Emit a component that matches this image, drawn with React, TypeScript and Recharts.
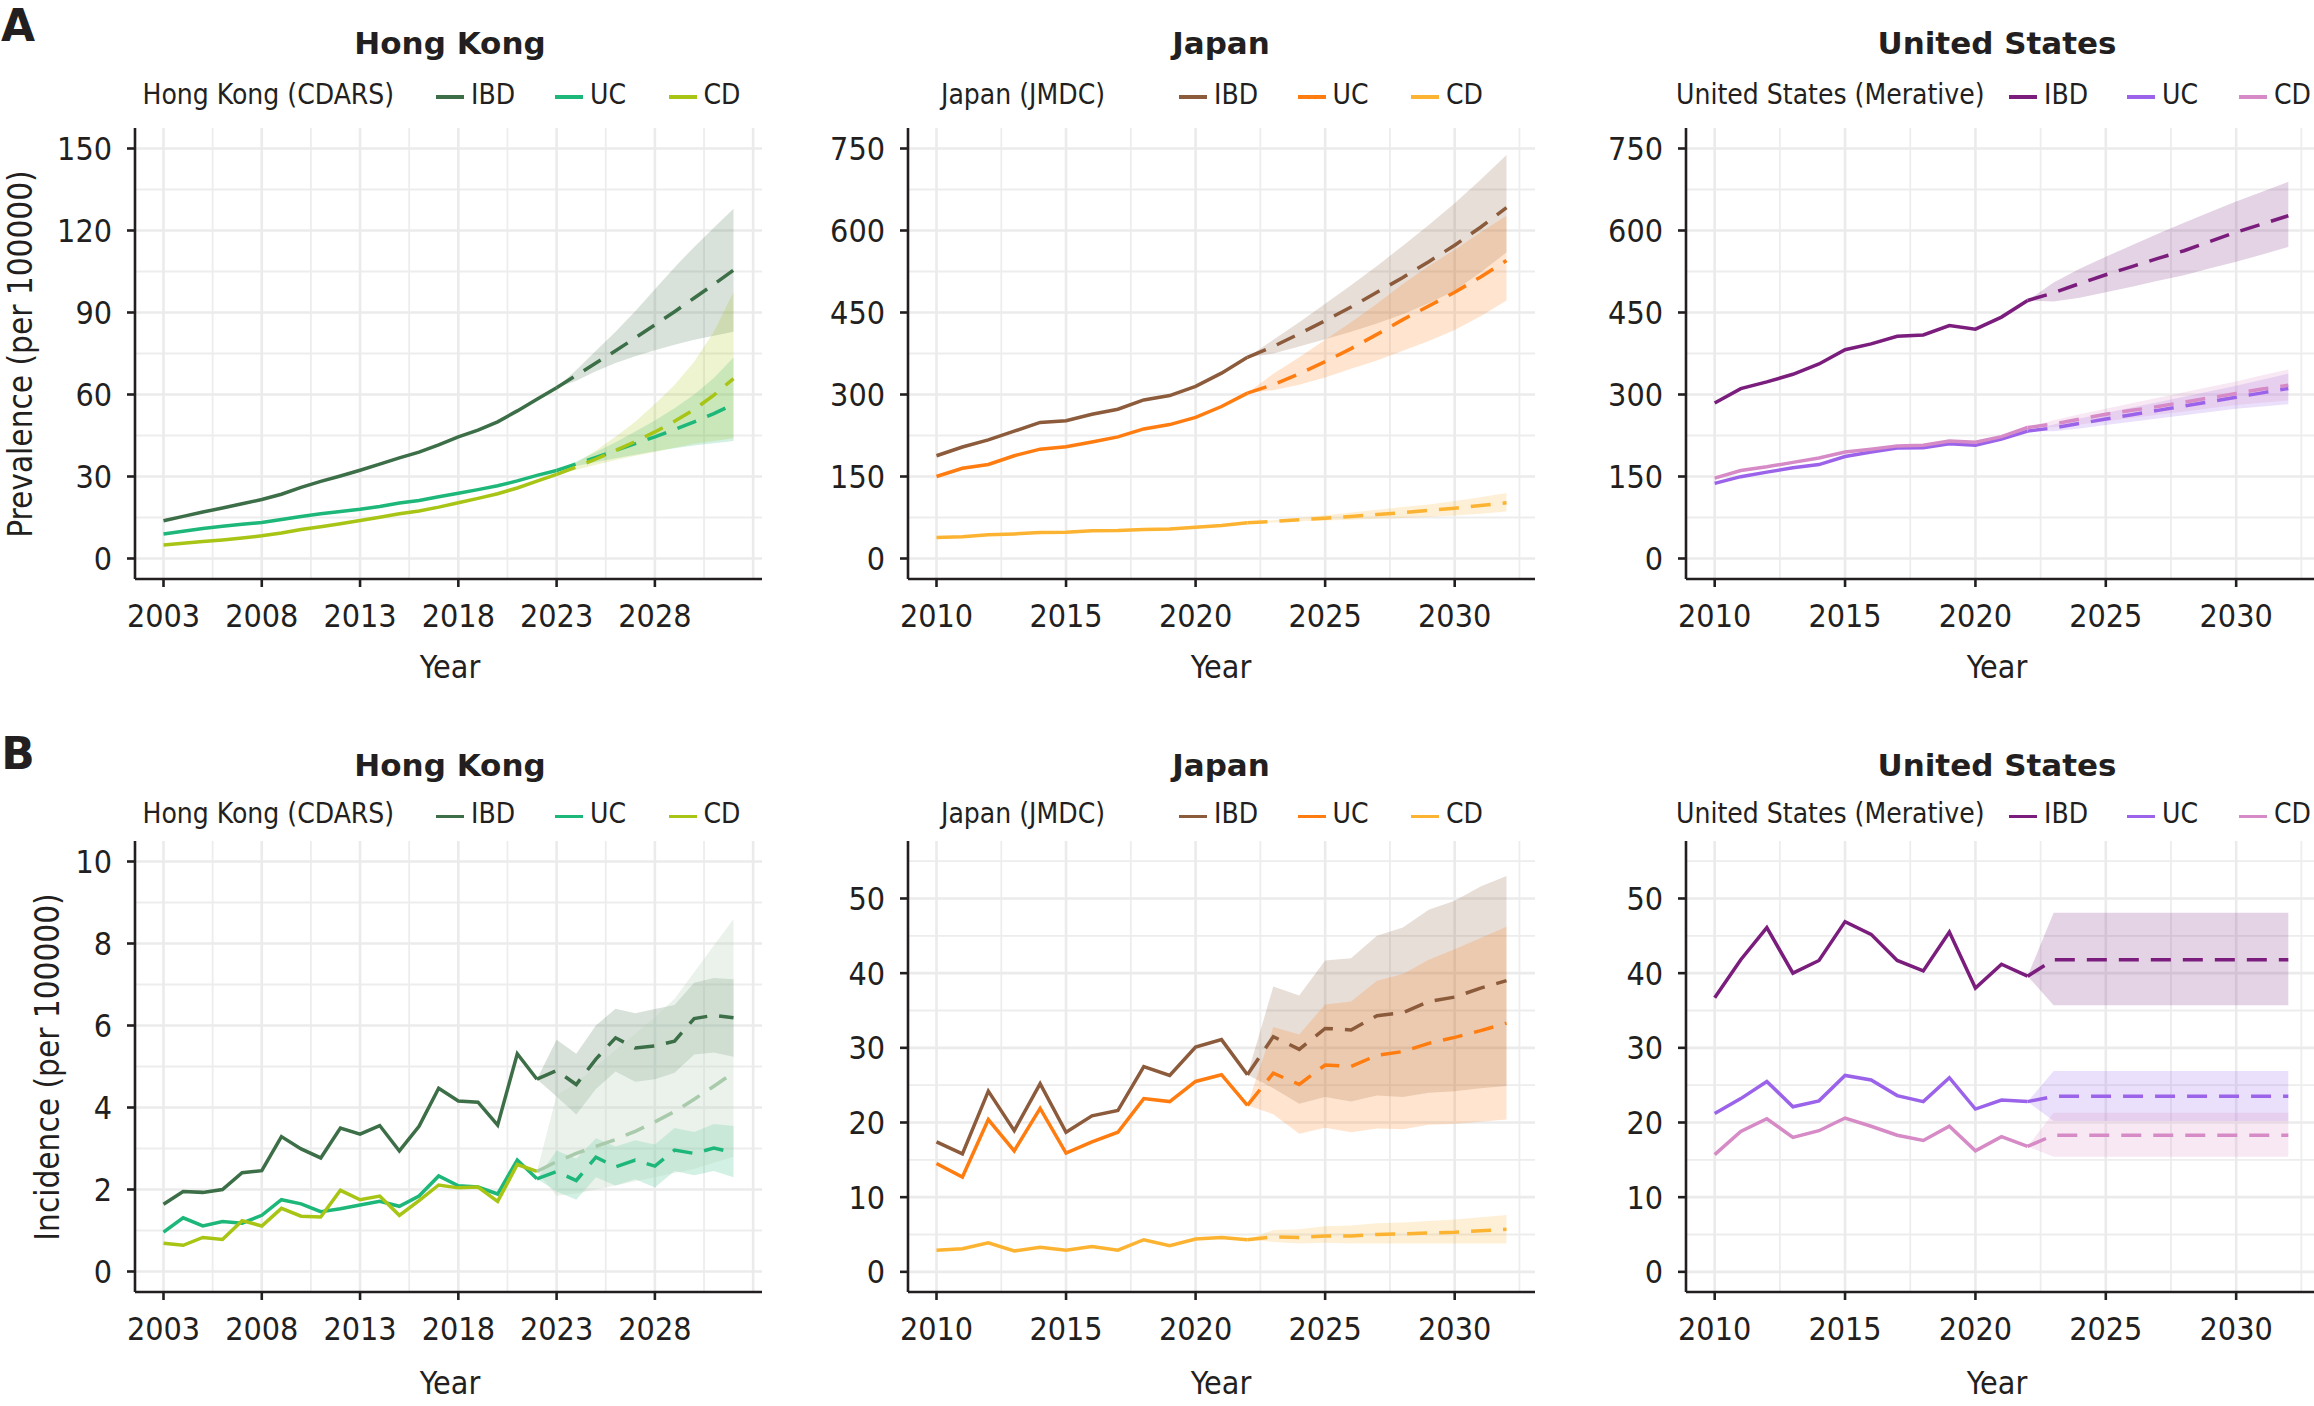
import React from 'react';
import { ComposedChart, Line, Area, XAxis, YAxis, CartesianGrid } from 'recharts';

const INK = '#231f20';
const FONT = "'DejaVu Sans Condensed', 'DejaVu Sans', sans-serif";
const TITLE_FONT = "'DejaVu Sans', sans-serif";

// ---------- years ----------
const hkObsYearsPrev = [2003, 2004, 2005, 2006, 2007, 2008, 2009, 2010, 2011, 2012, 2013, 2014, 2015, 2016, 2017, 2018, 2019, 2020, 2021, 2022, 2023];
const hkProjYearsPrev = [2023, 2024, 2025, 2026, 2027, 2028, 2029, 2030, 2031, 2032];
const hkObsYearsInc = [2003, 2004, 2005, 2006, 2007, 2008, 2009, 2010, 2011, 2012, 2013, 2014, 2015, 2016, 2017, 2018, 2019, 2020, 2021, 2022];
const obsYears1022 = [2010, 2011, 2012, 2013, 2014, 2015, 2016, 2017, 2018, 2019, 2020, 2021, 2022];
const projYears2232 = [2022, 2023, 2024, 2025, 2026, 2027, 2028, 2029, 2030, 2031, 2032];

// ---------- A: prevalence, Hong Kong ----------
const hkPrevIbd = [13.8, 15.4, 17.0, 18.5, 20.0, 21.6, 23.5, 26.0, 28.2, 30.2, 32.3, 34.5, 36.8, 38.9, 41.6, 44.5, 47.0, 50.0, 54.0, 58.3, 62.5];
const hkPrevUc = [9.0, 10.0, 11.0, 11.8, 12.5, 13.2, 14.3, 15.4, 16.4, 17.2, 18.0, 19.0, 20.3, 21.2, 22.6, 23.9, 25.2, 26.6, 28.4, 30.4, 32.2];
const hkPrevCd = [4.9, 5.6, 6.2, 6.8, 7.5, 8.3, 9.3, 10.6, 11.6, 12.7, 13.9, 15.1, 16.4, 17.4, 18.8, 20.4, 22.0, 23.7, 25.8, 28.3, 30.8];
const hkPrevIbdProj = [62.5, 67, 71.5, 76, 80.7, 85.5, 90.3, 95.3, 100.3, 105.5];
const hkPrevIbdLo = [62.5, 65, 68.5, 71.5, 74, 76.2, 78.2, 80, 81.5, 83];
const hkPrevIbdHi = [62.5, 69, 76, 83, 90.5, 98.5, 106.5, 114, 121, 128];
const hkPrevUcProj = [32.2, 34.6, 37, 39.5, 42, 44.5, 47.2, 50, 53, 56.4];
const hkPrevUcLo = [32.2, 33.8, 35.3, 36.7, 38, 39.2, 40.3, 41.3, 42.2, 43];
const hkPrevUcHi = [32.2, 35.5, 39, 42.5, 46.5, 50.5, 55, 60, 66, 73.5];
const hkPrevCdProj = [30.8, 33.5, 36.4, 39.5, 42.8, 46.3, 50.2, 54.5, 59.8, 65.8];
const hkPrevCdLo = [30.8, 32.5, 34.3, 36, 37.6, 39, 40.5, 42, 43, 44];
const hkPrevCdHi = [30.8, 35, 39.5, 44.5, 50, 56.5, 63.5, 72, 83, 97.5];

// ---------- A: prevalence, Japan ----------
const jpPrevIbd = [188, 204, 217, 233, 249, 252, 264, 273, 290, 298, 315, 339, 368];
const jpPrevUc = [150, 165, 172, 188, 200, 204.5, 213, 222.5, 237, 245, 258, 278, 302.6];
const jpPrevCd = [38.4, 40, 43.3, 45, 47.4, 48, 50.7, 51, 53, 54, 57, 60.5, 65.4];
const jpPrevIbdProj = [368, 388, 411, 435, 460, 487, 514, 543, 573, 606, 642];
const jpPrevIbdLo = [368, 375, 388, 401, 415, 430, 447, 467, 490, 523, 560];
const jpPrevIbdHi = [368, 400, 432, 466, 500, 535, 572, 610, 650, 693, 738];
const jpPrevUcProj = [302.6, 318, 338, 360, 384, 410, 437, 462, 487, 515, 545];
const jpPrevUcLo = [302.6, 308, 318, 331, 347, 362, 380, 398, 418, 443, 472];
const jpPrevUcHi = [302.6, 338, 368, 400, 432, 466, 502, 535, 565, 597, 627];
const jpPrevCdProj = [65.4, 68, 71, 73.6, 77, 80.5, 84, 88, 92, 97, 102];
const jpPrevCdLo = [65.4, 66, 68, 69.5, 71, 72.5, 74, 76, 78.5, 82, 86];
const jpPrevCdHi = [65.4, 70, 74.5, 79, 84, 89, 94, 99, 105, 112, 120];

// ---------- A: prevalence, United States ----------
const usPrevIbd = [284.6, 310.8, 323, 337, 355.8, 382, 392.6, 406.5, 409, 426, 419.6, 441.6, 472];
const usPrevUc = [137.4, 149.7, 158, 166, 171.8, 186.5, 194.7, 202, 202.8, 210, 207, 218.4, 233];
const usPrevCd = [147, 161, 167.7, 175.8, 184, 194.7, 200, 206, 207, 215, 212.6, 223, 239.6];
const usPrevIbdProj = [472, 486, 503, 519, 534, 549, 563, 580, 597, 612, 627];
const usPrevIbdLo = [472, 470, 477, 487, 497, 508, 518, 531, 543, 556, 570];
const usPrevIbdHi = [472, 505, 530, 552, 573, 594, 614, 634, 653, 671, 689];
const usPrevUcProj = [233, 239, 247, 255, 263, 271, 279, 287, 295, 303, 311];
const usPrevUcLo = [233, 233, 238, 244, 250, 256, 262, 268, 274, 278, 282];
const usPrevUcHi = [233, 245, 256, 266, 276, 286, 296, 306, 316, 327, 338];
const usPrevCdProj = [239.6, 246, 255, 264, 271, 278, 286, 294, 302, 310, 317];
const usPrevCdLo = [239.6, 240, 245, 251, 257, 263, 269, 275, 281, 285, 289];
const usPrevCdHi = [239.6, 253, 264, 274, 284, 294, 304, 314, 324, 335, 346];

// ---------- B: incidence, Hong Kong ----------
const hkIncIbd = [1.64, 1.95, 1.93, 2.0, 2.41, 2.46, 3.29, 2.99, 2.77, 3.5, 3.35, 3.56, 2.94, 3.54, 4.47, 4.16, 4.13, 3.57, 5.31, 4.69];
const hkIncUc = [0.96, 1.31, 1.11, 1.22, 1.18, 1.37, 1.75, 1.65, 1.46, 1.53, 1.62, 1.71, 1.59, 1.84, 2.33, 2.09, 2.06, 1.89, 2.72, 2.26];
const hkIncCd = [0.69, 0.64, 0.83, 0.78, 1.24, 1.11, 1.54, 1.35, 1.33, 1.98, 1.75, 1.84, 1.37, 1.73, 2.11, 2.04, 2.06, 1.71, 2.61, 2.44];
const hkIncIbdProj = [4.69, 4.9, 4.56, 5.18, 5.7, 5.45, 5.5, 5.62, 6.17, 6.25, 6.19];
const hkIncIbdLo = [4.69, 4.27, 3.83, 4.45, 4.88, 4.63, 4.69, 4.85, 5.29, 5.34, 5.24];
const hkIncIbdHi = [4.69, 5.65, 5.31, 6.0, 6.41, 6.3, 6.4, 6.5, 7.04, 7.16, 7.13];
const hkIncUcProj = [2.26, 2.44, 2.22, 2.79, 2.55, 2.72, 2.57, 2.96, 2.88, 3.01, 2.9];
const hkIncUcLo = [2.26, 1.95, 1.75, 2.3, 2.1, 2.25, 2.05, 2.45, 2.35, 2.45, 2.3];
const hkIncUcHi = [2.26, 2.95, 2.75, 3.25, 3.05, 3.2, 3.1, 3.5, 3.4, 3.6, 3.55];
const hkIncCdProj = [2.44, 2.68, 2.88, 3.05, 3.22, 3.42, 3.65, 3.9, 4.2, 4.52, 4.85];
const hkIncCdLo = [2.44, 1.85, 1.9, 2.0, 2.1, 2.2, 2.3, 2.4, 2.5, 2.65, 2.8];
const hkIncCdHi = [2.44, 4.3, 4.6, 5.0, 5.4, 5.8, 6.2, 6.65, 7.3, 7.95, 8.6];

// ---------- B: incidence, Japan ----------
const jpIncIbd = [17.4, 15.8, 24.2, 18.9, 25.2, 18.7, 20.9, 21.6, 27.5, 26.3, 30.1, 31.1, 26.4];
const jpIncUc = [14.5, 12.7, 20.4, 16.2, 21.9, 15.9, 17.4, 18.7, 23.2, 22.8, 25.5, 26.4, 22.3];
const jpIncCd = [2.9, 3.1, 3.9, 2.8, 3.3, 2.9, 3.4, 2.9, 4.3, 3.5, 4.4, 4.6, 4.3];
const jpIncIbdProj = [26.4, 31.5, 29.8, 32.6, 32.4, 34.3, 34.7, 36.2, 36.8, 38, 39];
const jpIncIbdLo = [26.4, 24.6, 22.5, 23.4, 22.8, 23.6, 23.4, 24, 24.2, 24.6, 24.9];
const jpIncIbdHi = [26.4, 38.2, 37, 41.7, 42, 45, 46.1, 48.5, 49.7, 51.6, 53];
const jpIncUcProj = [22.3, 26.6, 25.1, 27.7, 27.5, 29, 29.5, 30.6, 31.4, 32.3, 33.3];
const jpIncUcLo = [22.3, 21.1, 18.5, 19.3, 18.7, 19.2, 19.1, 19.7, 19.8, 20.1, 20.4];
const jpIncUcHi = [22.3, 32.8, 31.8, 35.8, 36.2, 39, 39.9, 41.8, 43.2, 44.7, 46.2];
const jpIncCdProj = [4.3, 4.7, 4.6, 4.8, 4.8, 5.0, 5.1, 5.2, 5.3, 5.5, 5.7];
const jpIncCdLo = [4.3, 4.0, 3.8, 3.9, 3.8, 3.8, 3.8, 3.8, 3.8, 3.8, 3.8];
const jpIncCdHi = [4.3, 5.6, 5.7, 6.1, 6.2, 6.5, 6.6, 6.8, 7.0, 7.3, 7.6];

// ---------- B: incidence, United States ----------
const usIncIbd = [36.7, 41.8, 46.1, 40, 41.7, 46.9, 45.2, 41.7, 40.3, 45.5, 38, 41.2, 39.6];
const usIncUc = [21.2, 23.2, 25.5, 22.1, 22.9, 26.3, 25.7, 23.6, 22.8, 26, 21.8, 23, 22.8];
const usIncCd = [15.7, 18.8, 20.5, 18, 18.9, 20.6, 19.5, 18.3, 17.6, 19.5, 16.2, 18.1, 16.8];
const usIncIbdProj = [39.6, 41.8, 41.8, 41.8, 41.8, 41.8, 41.8, 41.8, 41.8, 41.8, 41.8];
const usIncIbdLo = [39.6, 35.7, 35.7, 35.7, 35.7, 35.7, 35.7, 35.7, 35.7, 35.7, 35.7];
const usIncIbdHi = [39.6, 48.1, 48.1, 48.1, 48.1, 48.1, 48.1, 48.1, 48.1, 48.1, 48.1];
const usIncUcProj = [22.8, 23.5, 23.5, 23.5, 23.5, 23.5, 23.5, 23.5, 23.5, 23.5, 23.5];
const usIncUcLo = [22.8, 20.2, 20.2, 20.2, 20.2, 20.2, 20.2, 20.2, 20.2, 20.2, 20.2];
const usIncUcHi = [22.8, 26.9, 26.9, 26.9, 26.9, 26.9, 26.9, 26.9, 26.9, 26.9, 26.9];
const usIncCdProj = [16.8, 18.3, 18.3, 18.3, 18.3, 18.3, 18.3, 18.3, 18.3, 18.3, 18.3];
const usIncCdLo = [16.8, 15.4, 15.4, 15.4, 15.4, 15.4, 15.4, 15.4, 15.4, 15.4, 15.4];
const usIncCdHi = [16.8, 21.3, 21.3, 21.3, 21.3, 21.3, 21.3, 21.3, 21.3, 21.3, 21.3];

// ---------- ticks ----------
const hkXTicks = [2003, 2008, 2013, 2018, 2023, 2028];
const hkXGrid = [2003, 2008, 2013, 2018, 2023, 2028, 2033];
const hkXMinor = [2005.5, 2010.5, 2015.5, 2020.5, 2025.5, 2030.5];
const xTicks10 = [2010, 2015, 2020, 2025, 2030];
const xMinor10 = [2012.5, 2017.5, 2022.5, 2027.5, 2032.5];
const hkPrevTicks = [0, 30, 60, 90, 120, 150];
const hkPrevMinor = [15, 45, 75, 105, 135];
const prev750Ticks = [0, 150, 300, 450, 600, 750];
const prev750Minor = [75, 225, 375, 525, 675];
const hkIncTicks = [0, 2, 4, 6, 8, 10];
const hkIncMinor = [1, 3, 5, 7, 9];
const inc50Ticks = [0, 10, 20, 30, 40, 50];
const inc50Minor = [5, 15, 25, 35, 45, 55];

const legendLabels = ['IBD', 'UC', 'CD'];
const hkColors = ['#3c6e47', '#1db77a', '#a8c414'];
const jpColors = ['#8c5b3b', '#ff7c10', '#fcb332'];
const usColors = ['#7a1d7c', '#9b63ea', '#d68ac6'];

type Series = {
  key: string;
  color: string;
  obs: number[];
  proj: number[];
  lo: number[];
  hi: number[];
  projColor?: string;
  bandColor?: string;
  bandOpacity?: number;
};

function buildRows(obsYears: number[], projYears: number[], series: Series[]) {
  const rows = new Map<number, any>();
  const get = (y: number) => {
    if (!rows.has(y)) rows.set(y, { year: y });
    return rows.get(y);
  };
  series.forEach((s) => {
    obsYears.forEach((y, i) => {
      get(y)[s.key] = s.obs[i];
    });
    projYears.forEach((y, i) => {
      const r = get(y);
      r[s.key + 'P'] = s.proj[i];
      r[s.key + 'B'] = [s.lo[i], s.hi[i]];
    });
  });
  return Array.from(rows.values()).sort((a, b) => a.year - b.year);
}

function mkSeries(colors: string[], obs: number[][], proj: number[][], lo: number[][], hi: number[][]): Series[] {
  return ['ibd', 'uc', 'cd'].map((key, i) => ({
    key,
    color: colors[i],
    obs: obs[i],
    proj: proj[i],
    lo: lo[i],
    hi: hi[i],
  }));
}

// ---------- layout ----------
const ROW_A = { top: 128, bottom: 579, title: 44, legend: 94.5, xTitle: 667 };
const ROW_B = { top: 841, bottom: 1292, title: 766, legend: 814, xTitle: 1383 };
const COL_HK = { left: 135, right: 762, center: 450, legendTitle: 142.5, keys: [436, 555, 668.5] };
const COL_JP = { left: 908, right: 1535, center: 1221, legendTitle: 941, keys: [1179, 1297.5, 1411] };
const COL_US = { left: 1686, right: 2317, center: 1997, legendTitle: 1676, keys: [2009, 2127, 2239] };

const YW = 140;
const XH = 70;
const PAD = 4;
const LEGEND_SIZE = 28;

function Txt({ x, y, size, bold, anchor = 'middle', rotate, family = FONT, children }: any) {
  const tx = anchor === 'middle' ? '-50%' : anchor === 'end' ? '-100%' : '0';
  return (
    <div
      style={{
        position: 'absolute',
        left: x,
        top: y,
        transform: `translate(${tx}, -50%)${rotate ? ' rotate(-90deg)' : ''}`,
        fontSize: size,
        lineHeight: rotate ? 1 : 1.2,
        fontWeight: bold ? 'bold' : 'normal',
        fontFamily: family,
        fontStretch: family === FONT ? 'condensed' : 'normal',
        whiteSpace: 'nowrap',
        color: INK,
      }}
    >
      {children}
    </div>
  );
}

function Panel({ col, row, title, legendTitle, rows, series, xDomain, xTicks, xGrid, xMinor, yDomain, yTicks, yMinor }: any) {
  const plotW = col.right - col.left;
  const plotH = row.bottom - row.top;
  return (
    <>
      <Txt x={col.center} y={row.title} size={31} bold family={TITLE_FONT}>
        {title}
      </Txt>
      <Txt x={col.legendTitle} y={row.legend} size={LEGEND_SIZE} anchor="start">
        {legendTitle}
      </Txt>
      {legendLabels.map((lab, i) => (
        <React.Fragment key={lab}>
          <div
            style={{
              position: 'absolute',
              left: col.keys[i],
              top: row.legend + 0.5,
              width: 28,
              height: 3.5,
              background: series[i].color,
            }}
          />
          <Txt x={col.keys[i] + 35} y={row.legend} size={LEGEND_SIZE} anchor="start">
            {lab}
          </Txt>
        </React.Fragment>
      ))}
      <Txt x={col.center} y={row.xTitle} size={32}>
        Year
      </Txt>
      <div style={{ position: 'absolute', left: col.left - YW, top: row.top - PAD }}>
        <ComposedChart
          width={plotW + YW + PAD}
          height={plotH + XH + PAD}
          data={rows}
          margin={{ top: PAD, right: PAD, bottom: 0, left: 0 }}
        >
          <CartesianGrid horizontalValues={yMinor} verticalValues={xMinor} stroke="#ededed" strokeWidth={1.8} />
          <CartesianGrid horizontalValues={yTicks} verticalValues={xGrid} stroke="#ebebeb" strokeWidth={2.6} />
          <XAxis
            type="number"
            dataKey="year"
            domain={xDomain}
            ticks={xTicks}
            interval={0}
            allowDataOverflow
            height={XH}
            tickSize={8}
            tickMargin={17}
            tick={{ fill: INK, fontSize: 32 }}
            axisLine={{ stroke: INK, strokeWidth: 2.6 }}
            tickLine={{ stroke: INK, strokeWidth: 2.6 }}
          />
          <YAxis
            type="number"
            domain={yDomain}
            ticks={yTicks}
            interval={0}
            allowDataOverflow
            width={YW}
            tickSize={8}
            tickMargin={15}
            tick={{ fill: INK, fontSize: 32 }}
            axisLine={{ stroke: INK, strokeWidth: 2.6 }}
            tickLine={{ stroke: INK, strokeWidth: 2.6 }}
          />
          {series.map((s: Series) => (
            <Area
              key={s.key + 'B'}
              type="linear"
              dataKey={s.key + 'B'}
              stroke="none"
              fill={s.bandColor || s.color}
              fillOpacity={s.bandOpacity ?? 0.2}
              isAnimationActive={false}
              activeDot={false}
            />
          ))}
          {series.map((s: Series) => (
            <Line
              key={s.key}
              type="linear"
              dataKey={s.key}
              stroke={s.color}
              strokeWidth={3.5}
              dot={false}
              activeDot={false}
              isAnimationActive={false}
            />
          ))}
          {series.map((s: Series) => (
            <Line
              key={s.key + 'P'}
              type="linear"
              dataKey={s.key + 'P'}
              stroke={s.projColor || s.color}
              strokeWidth={3.5}
              strokeDasharray="20 12"
              dot={false}
              activeDot={false}
              isAnimationActive={false}
            />
          ))}
        </ComposedChart>
      </div>
    </>
  );
}

const hkPrevSeries = mkSeries(
  hkColors,
  [hkPrevIbd, hkPrevUc, hkPrevCd],
  [hkPrevIbdProj, hkPrevUcProj, hkPrevCdProj],
  [hkPrevIbdLo, hkPrevUcLo, hkPrevCdLo],
  [hkPrevIbdHi, hkPrevUcHi, hkPrevCdHi]
);
const jpPrevSeries = mkSeries(
  jpColors,
  [jpPrevIbd, jpPrevUc, jpPrevCd],
  [jpPrevIbdProj, jpPrevUcProj, jpPrevCdProj],
  [jpPrevIbdLo, jpPrevUcLo, jpPrevCdLo],
  [jpPrevIbdHi, jpPrevUcHi, jpPrevCdHi]
);
const usPrevSeries = mkSeries(
  usColors,
  [usPrevIbd, usPrevUc, usPrevCd],
  [usPrevIbdProj, usPrevUcProj, usPrevCdProj],
  [usPrevIbdLo, usPrevUcLo, usPrevCdLo],
  [usPrevIbdHi, usPrevUcHi, usPrevCdHi]
);
const hkIncSeries = mkSeries(
  hkColors,
  [hkIncIbd, hkIncUc, hkIncCd],
  [hkIncIbdProj, hkIncUcProj, hkIncCdProj],
  [hkIncIbdLo, hkIncUcLo, hkIncCdLo],
  [hkIncIbdHi, hkIncUcHi, hkIncCdHi]
);
// the CD projection in the incidence panel is drawn much paler in the original
hkIncSeries[2] = { ...hkIncSeries[2], projColor: '#a9cbab', bandColor: '#b9d3bc', bandOpacity: 0.3 };
const jpIncSeries = mkSeries(
  jpColors,
  [jpIncIbd, jpIncUc, jpIncCd],
  [jpIncIbdProj, jpIncUcProj, jpIncCdProj],
  [jpIncIbdLo, jpIncUcLo, jpIncCdLo],
  [jpIncIbdHi, jpIncUcHi, jpIncCdHi]
);
const usIncSeries = mkSeries(
  usColors,
  [usIncIbd, usIncUc, usIncCd],
  [usIncIbdProj, usIncUcProj, usIncCdProj],
  [usIncIbdLo, usIncUcLo, usIncCdLo],
  [usIncIbdHi, usIncUcHi, usIncCdHi]
);

export default function App() {
  const hkX = { xDomain: [2001.55, 2033.45], xTicks: hkXTicks, xGrid: hkXGrid, xMinor: hkXMinor };
  const x10 = { xDomain: [2008.9, 2033.1], xTicks: xTicks10, xGrid: xTicks10, xMinor: xMinor10 };
  return (
    <div
      style={{
        position: 'absolute',
        left: 0,
        top: 0,
        width: 2314,
        height: 1406,
        overflow: 'hidden',
        background: '#ffffff',
        fontFamily: FONT,
        fontStretch: 'condensed',
        color: INK,
      }}
    >
      <Txt x={18} y={26} size={44} bold family={TITLE_FONT}>A</Txt>
      <Txt x={18} y={754} size={44} bold family={TITLE_FONT}>B</Txt>
      <Txt x={20} y={354} size={33} rotate>Prevalence (per 100000)</Txt>
      <Txt x={47} y={1067} size={33} rotate>Incidence (per 100000)</Txt>

      <Panel
        col={COL_HK}
        row={ROW_A}
        title="Hong Kong"
        legendTitle="Hong Kong (CDARS)"
        rows={buildRows(hkObsYearsPrev, hkProjYearsPrev, hkPrevSeries)}
        series={hkPrevSeries}
        {...hkX}
        yDomain={[-7.5, 157.5]}
        yTicks={hkPrevTicks}
        yMinor={hkPrevMinor}
      />
      <Panel
        col={COL_JP}
        row={ROW_A}
        title="Japan"
        legendTitle="Japan (JMDC)"
        rows={buildRows(obsYears1022, projYears2232, jpPrevSeries)}
        series={jpPrevSeries}
        {...x10}
        yDomain={[-37.5, 787.5]}
        yTicks={prev750Ticks}
        yMinor={prev750Minor}
      />
      <Panel
        col={COL_US}
        row={ROW_A}
        title="United States"
        legendTitle="United States (Merative)"
        rows={buildRows(obsYears1022, projYears2232, usPrevSeries)}
        series={usPrevSeries}
        {...x10}
        yDomain={[-37.5, 787.5]}
        yTicks={prev750Ticks}
        yMinor={prev750Minor}
      />
      <Panel
        col={COL_HK}
        row={ROW_B}
        title="Hong Kong"
        legendTitle="Hong Kong (CDARS)"
        rows={buildRows(hkObsYearsInc, projYears2232, hkIncSeries)}
        series={hkIncSeries}
        {...hkX}
        yDomain={[-0.5, 10.5]}
        yTicks={hkIncTicks}
        yMinor={hkIncMinor}
      />
      <Panel
        col={COL_JP}
        row={ROW_B}
        title="Japan"
        legendTitle="Japan (JMDC)"
        rows={buildRows(obsYears1022, projYears2232, jpIncSeries)}
        series={jpIncSeries}
        {...x10}
        yDomain={[-2.7, 57.7]}
        yTicks={inc50Ticks}
        yMinor={inc50Minor}
      />
      <Panel
        col={COL_US}
        row={ROW_B}
        title="United States"
        legendTitle="United States (Merative)"
        rows={buildRows(obsYears1022, projYears2232, usIncSeries)}
        series={usIncSeries}
        {...x10}
        yDomain={[-2.7, 57.7]}
        yTicks={inc50Ticks}
        yMinor={inc50Minor}
      />
    </div>
  );
}
